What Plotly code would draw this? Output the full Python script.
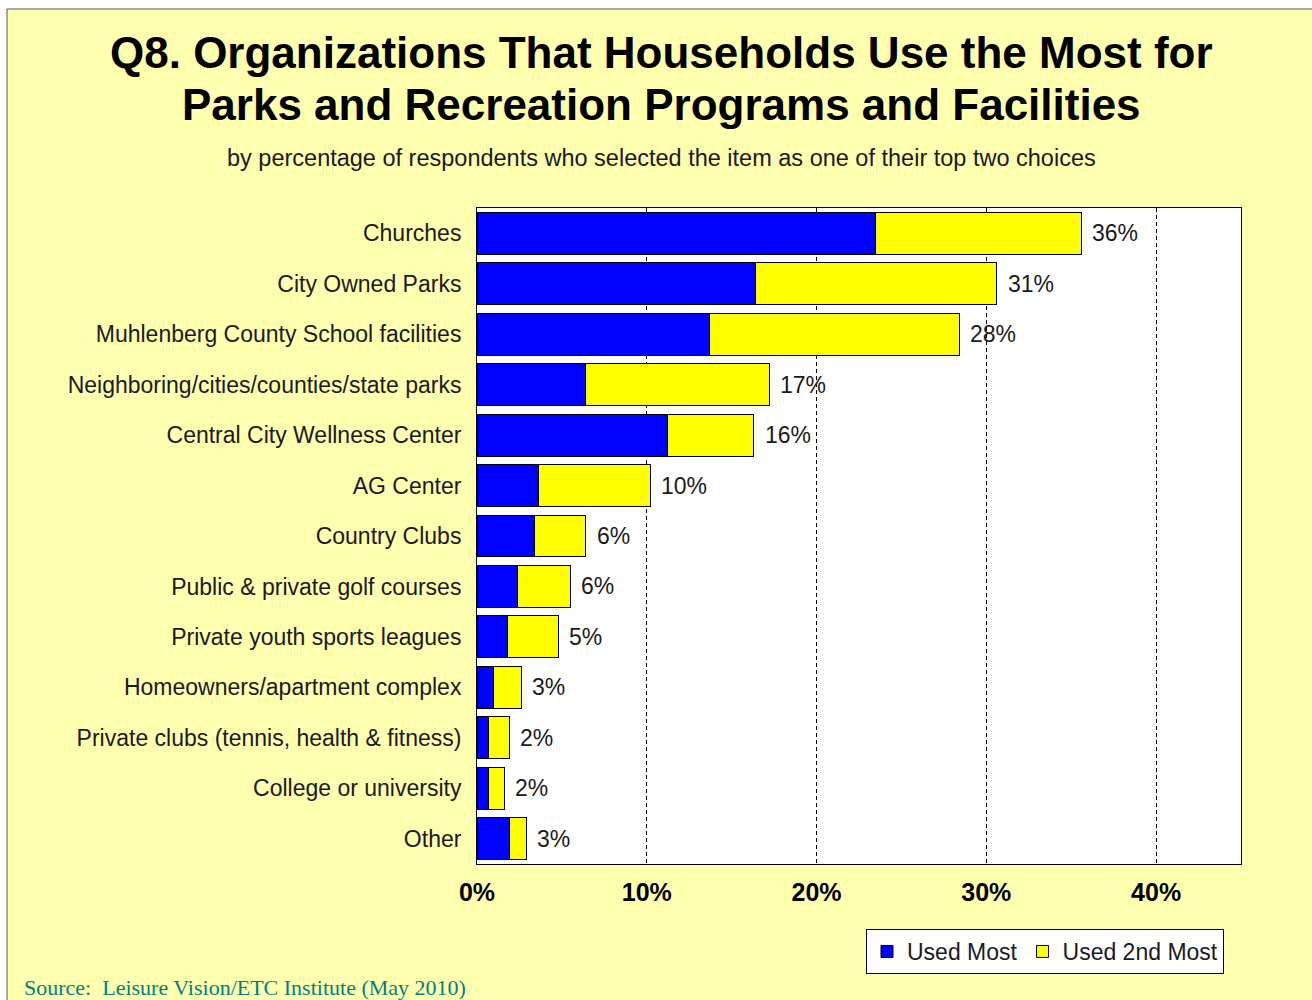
import plotly.graph_objects as go

categories = [
    "Churches",
    "City Owned Parks",
    "Muhlenberg County School facilities",
    "Neighboring/cities/counties/state parks",
    "Central City Wellness Center",
    "AG Center",
    "Country Clubs",
    "Public & private golf courses",
    "Private youth sports leagues",
    "Homeowners/apartment complex",
    "Private clubs (tennis, health & fitness)",
    "College or university",
    "Other",
]
used_most = [23.5, 16.4, 13.7, 6.4, 11.2, 3.6, 3.4, 2.4, 1.8, 1.0, 0.7, 0.7, 1.9]
used_2nd = [12.1, 14.2, 14.7, 10.8, 5.1, 6.6, 3.0, 3.1, 3.0, 1.6, 1.2, 0.9, 1.0]
total_labels = ["36%", "31%", "28%", "17%", "16%", "10%", "6%", "6%", "5%",
                "3%", "2%", "2%", "3%"]
tick_vals = [0, 10, 20, 30, 40]
tick_text = ["0%", "10%", "20%", "30%", "40%"]

BG = "#FFFFB0"
FONT = "Liberation Sans, Arial, sans-serif"

# plot area in pixels: x 477..1241, y 208..864
L, R, T, B = 477, 1241, 208, 864
W, H = 1312, 1000


def px(xp):
    return (xp - L) / (R - L)


def py(yp):
    return (B - yp) / (B - T)


fig = go.Figure()
fig.add_trace(go.Bar(
    y=categories, x=used_most, orientation="h", name="Used Most",
    marker=dict(color="#0000FF", line=dict(color="#000000", width=1)),
))
fig.add_trace(go.Bar(
    y=categories, x=used_2nd, orientation="h", name="Used 2nd Most",
    marker=dict(color="#FFFF00", line=dict(color="#000000", width=1)),
))

annotations = []
for cat, a, b, lab in zip(categories, used_most, used_2nd, total_labels):
    annotations.append(dict(
        x=a + b, y=cat, xref="x", yref="y", text=lab, showarrow=False,
        xanchor="left", xshift=9, font=dict(family=FONT, size=23, color="#1a1a1a"),
    ))

annotations += [
    dict(x=px(661), y=py(53), xref="paper", yref="paper", showarrow=False,
         text="<b>Q8. Organizations That Households Use the Most for</b>",
         font=dict(family=FONT, size=44, color="#000000"), xanchor="center", yanchor="middle"),
    dict(x=px(661), y=py(104), xref="paper", yref="paper", showarrow=False,
         text="<b>Parks and Recreation Programs and Facilities</b>",
         font=dict(family=FONT, size=44, color="#000000"), xanchor="center", yanchor="middle"),
    dict(x=px(661), y=py(158), xref="paper", yref="paper", showarrow=False,
         text="by percentage of respondents who selected the item as one of their top two choices",
         font=dict(family=FONT, size=23.5, color="#1a1a1a"), xanchor="center", yanchor="middle"),
    dict(x=px(22), y=py(987), xref="paper", yref="paper", showarrow=False,
         text="Source:  Leisure Vision/ETC Institute (May 2010)",
         font=dict(family="Liberation Serif, Times New Roman, serif", size=22, color="#008080"),
         xanchor="left", yanchor="middle"),
]

shapes = [
    # white margin strips and outer frame line
    dict(type="rect", xref="paper", yref="paper", x0=px(0), x1=px(W), y0=py(0), y1=py(9),
         fillcolor="white", line=dict(width=0), layer="above"),
    dict(type="rect", xref="paper", yref="paper", x0=px(0), x1=px(7), y0=py(0), y1=py(H),
         fillcolor="white", line=dict(width=0), layer="above"),
    dict(type="line", xref="paper", yref="paper", x0=px(7), x1=px(W), y0=py(9), y1=py(9),
         line=dict(color="#555555", width=1)),
    dict(type="line", xref="paper", yref="paper", x0=px(7), x1=px(7), y0=py(9), y1=py(H),
         line=dict(color="#555555", width=1)),
]

fig.update_layout(
    width=W, height=H,
    margin=dict(l=L, r=W - R, t=T, b=H - B, pad=0),
    paper_bgcolor=BG, plot_bgcolor="white",
    barmode="stack", bargap=0.17,
    font=dict(family=FONT, size=23, color="#1a1a1a"),
    showlegend=True,
    legend=dict(
        orientation="h", x=px(866), y=py(929), xanchor="left", yanchor="top",
        bgcolor="white", bordercolor="#000000", borderwidth=1,
        font=dict(family=FONT, size=23, color="#1a1a1a"),
        traceorder="normal", itemwidth=30,
    ),
    annotations=annotations,
    shapes=shapes,
)
fig.update_xaxes(
    range=[0, 45], tickvals=tick_vals, ticktext=tick_text,
    tickfont=dict(family=FONT, size=25, color="#000000", weight="bold"),
    showgrid=True, gridcolor="#000000", gridwidth=1, griddash="4px,3px",
    showline=True, linecolor="#000000", linewidth=1, mirror=True,
    zeroline=False, ticks="", ticklabelstandoff=6,
)
fig.update_yaxes(
    categoryorder="array", categoryarray=categories, autorange="reversed",
    showline=True, linecolor="#000000", linewidth=1, mirror=True,
    ticks="", ticklabelstandoff=10,
    tickfont=dict(family=FONT, size=23, color="#1a1a1a"),
)

fig.write_html("out.html", config={"displayModeBar": False},
               post_script="document.body.style.margin='0';")
